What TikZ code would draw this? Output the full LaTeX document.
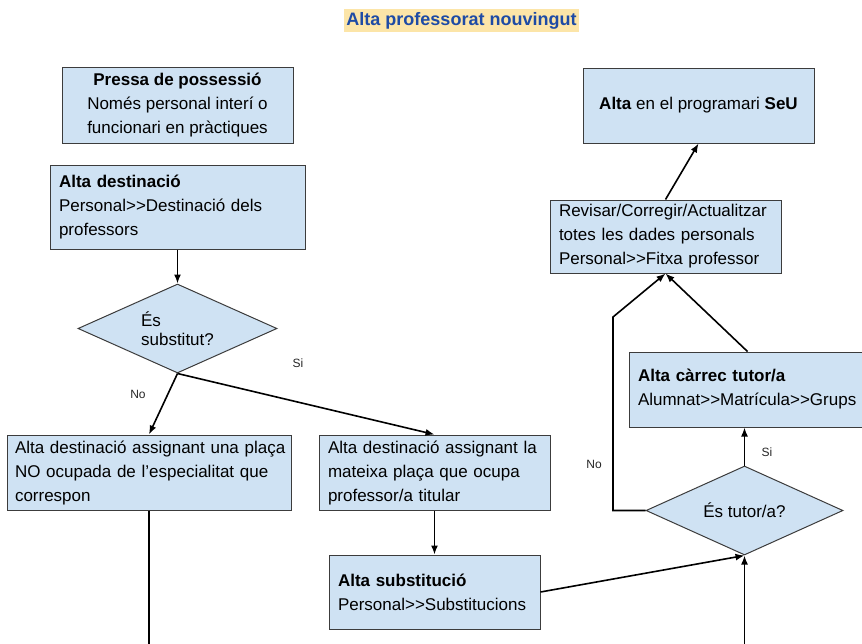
\documentclass[tikz,border=0pt]{standalone}
\usepackage{fontspec}
\setmainfont{Liberation Sans}
\usetikzlibrary{shapes.geometric,arrows.meta}
\definecolor{boxfill}{RGB}{207,226,243}
\definecolor{boxline}{RGB}{60,60,60}
\definecolor{titleblue}{RGB}{30,75,165}
\definecolor{hilite}{RGB}{252,229,168}
\begin{document}
\begin{tikzpicture}[x=1pt,y=-1pt,
  box/.style={draw=boxline, fill=boxfill, line width=1pt, inner ysep=0pt,
    font=\fontsize{17}{24}\selectfont},
  lbox/.style={box, align=left, inner xsep=9pt},
  cbox/.style={box, align=center, inner xsep=0pt},
  dec/.style={draw=boxline, fill=boxfill, line width=1pt, shape=diamond,
    aspect=2.2, inner sep=0pt, font=\fontsize{17}{19}\selectfont},
  conn/.style={line width=1.6pt, -{Latex[length=9pt,width=7pt]}},
  plain/.style={line width=1.6pt},
  lab/.style={font=\fontsize{12}{14}\selectfont, text=black!85}
]
\clip (0,0) rectangle (862,643);
\fill[white] (0,0) rectangle (862,643);

% title
\node[fill=hilite, inner xsep=2pt, minimum height=23pt, text=titleblue,
  font=\fontsize{18}{20}\selectfont\bfseries] (title) at (461.5,20.5) {Alta professorat nouvingut};

% boxes
\node[cbox, minimum width=231pt, minimum height=76pt] (pressa) at (177.5,105)
  {\textbf{Pressa de possessió}\\Només personal interí o\\funcionari en pràctiques};
\node[lbox, text width=237pt, minimum height=84pt] (altadest) at (177.5,207)
  {\textbf{Alta destinació}\\Personal>{}>Destinació dels\\professors};
\node[dec, minimum width=199pt, minimum height=89pt, align=left] (subst) at (177.5,328.5)
  {És\\substitut?};
\node[lbox, inner xsep=8pt, text width=268pt, minimum height=75pt] (noocup) at (149,472.5)
  {\mbox{Alta destinació assignant una plaça}\\\mbox{NO ocupada de l’especialitat que}\\correspon};
\node[lbox, text width=213pt, minimum height=75pt] (mateixa) at (434.5,472.5)
  {Alta destinació assignant la\\mateixa plaça que ocupa\\professor/a titular};
\node[lbox, text width=193pt, minimum height=74pt] (altasubst) at (434.5,592)
  {\textbf{Alta substitució}\\Personal>{}>Substitucions};
\node[dec, minimum width=197pt, minimum height=89pt] (tutor) at (744.5,510.5)
  {És tutor/a?};
\node[lbox, text width=219pt, minimum height=75pt] (carrec) at (747.5,389.5)
  {\textbf{Alta càrrec tutor/a}\\\mbox{Alumnat>{}>Matrícula>{}>Grups}};
\node[lbox, text width=213pt, minimum height=73pt] (revisar) at (665.5,236.5)
  {Revisar/Corregir/Actualitzar\\totes les dades personals\\Personal>{}>Fitxa professor};
\node[cbox, minimum width=231pt, minimum height=75pt] (seu) at (698.5,105.5)
  {\textbf{Alta} en el programari \textbf{SeU}};

% free ends
\coordinate (bl) at (149,650);
\coordinate (br) at (744.5,650);
\coordinate (nocorner1) at (613,510.5);
\coordinate (nocorner2) at (613,317);

% connectors
\draw[conn] (altadest.south) -- (subst.north);
\draw[conn] (subst.south) -- (noocup.north);
\draw[conn] (subst.south) -- (mateixa.north);
\draw[plain] (noocup.south) -- (bl);
\draw[conn] (mateixa.south) -- (altasubst.north);
\draw[conn] (altasubst.east) -- (tutor.south);
\draw[conn] (br) -- (tutor.south);
\draw[conn] (tutor.west) -- (nocorner1) -- (nocorner2) -- (revisar.south);
\draw[conn] (tutor.north) -- (carrec.south -| tutor.north);
\draw[conn] (carrec.north) -- (revisar.south);
\draw[conn] (revisar.north) -- (seu.south);

% labels
\node[lab] (lsi1) at (298,363) {Si};
\node[lab] (lno1) at (138,394) {No};
\node[lab] (lno2) at (594,464) {No};
\node[lab] (lsi2) at (767,452) {Si};
\end{tikzpicture}
\end{document}
